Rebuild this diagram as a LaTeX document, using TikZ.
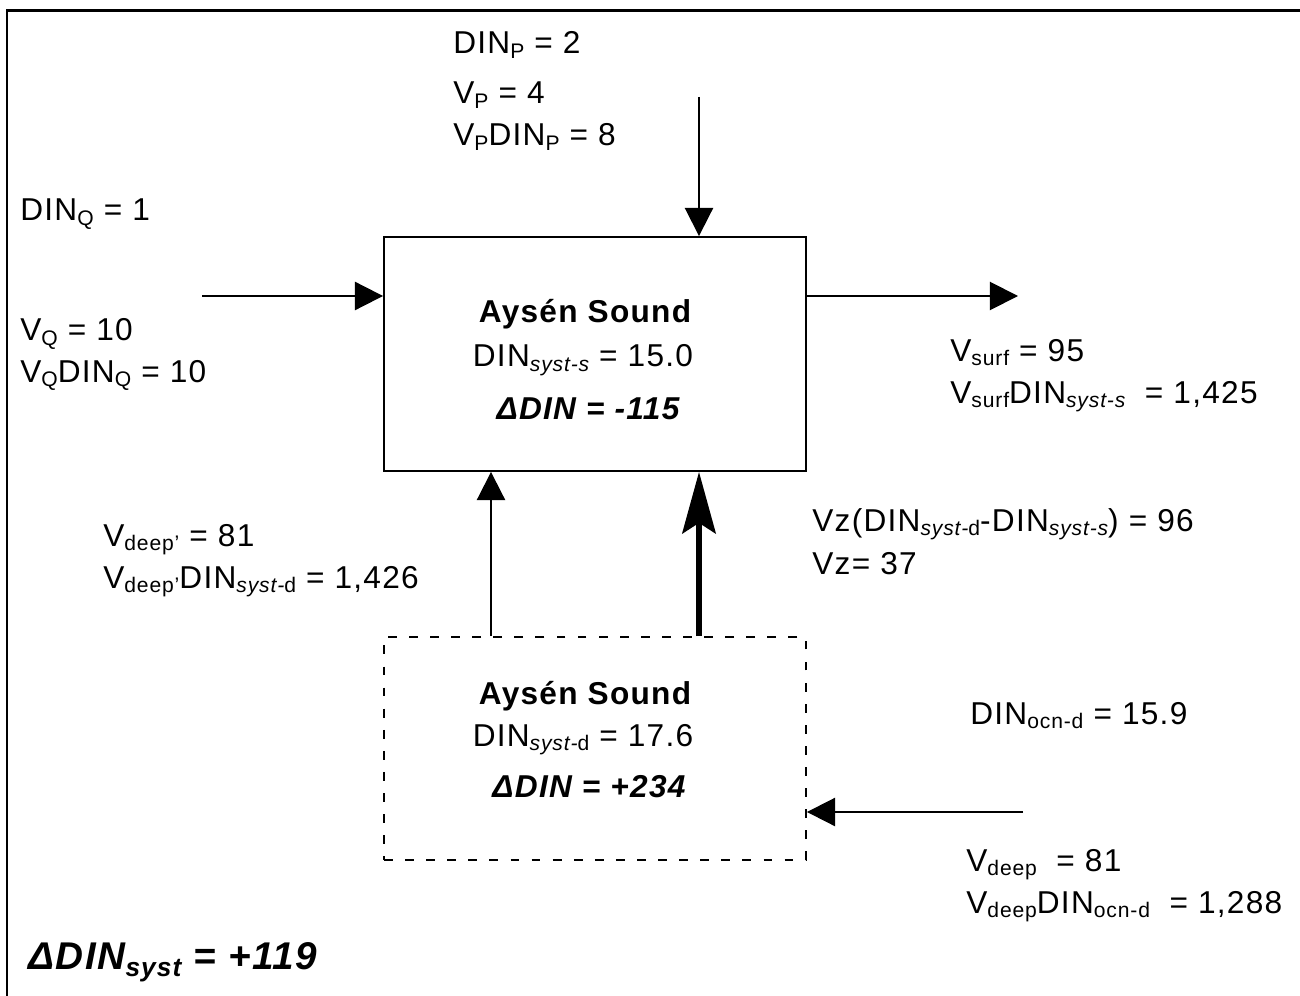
\documentclass[tikz,border=0pt]{standalone}
\usepackage{fontspec}
\setmainfont{Liberation Sans}[LetterSpace=4]
\usetikzlibrary{arrows.meta}
\newcommand\ix[1]{\raisebox{-0.15em}{\fontsize{12}{12}\selectfont #1}}

\begin{document}
\begin{tikzpicture}[x=0.02cm, y=-0.02cm, font=\fontsize{18}{20}\selectfont,
    lbl/.style={anchor=base west, inner sep=0pt},
    ttl/.style={anchor=base, inner sep=0pt},
    box/.style={draw, line width=1.1pt, minimum width=8.44cm, inner sep=0pt},
    flow/.style={-{Triangle[length=16pt, width=16pt]}, line width=1.1pt},
    bigflow/.style={-{Stealth[length=35pt, width=19pt, inset=6pt]}, line width=3.2pt}]
  \useasboundingbox (0,0) rectangle (1300,996);
  \draw[line width=1.7pt] (1300,11) -- (7,11) -- (7,996);

  % the two layers
  \node[box, minimum height=4.68cm] (surf) at (595,354) {};
  \node[box, minimum height=4.46cm, dash pattern=on 5pt off 7pt] (deep) at (595,748.5) {};

  \node[ttl, font=\fontsize{18}{20}\selectfont\bfseries] (surfname) at (585,323) {Aysén Sound};
  \node[ttl] (surfdin) at (583,367) {DIN\ix{\itshape syst-s} = 15.0};
  \node[ttl, font=\fontsize{18}{20}\selectfont\bfseries\itshape] (surfdelta) at (588,419) {ΔDIN = -115};
  \node[ttl, font=\fontsize{18}{20}\selectfont\bfseries] (deepname) at (585,704) {Aysén Sound};
  \node[ttl] (deepdin) at (583,746) {DIN\ix{\itshape syst-\upshape d} = 17.6};
  \node[ttl, font=\fontsize{18}{20}\selectfont\bfseries\itshape] (deepdelta) at (589,797) {ΔDIN = +234};

  % free ends of the flows
  \coordinate (pin) at (699,97);
  \coordinate (qin) at (202,296);
  \coordinate (sout) at (1018,296);
  \coordinate (ocn) at (1023,812);

  \draw[flow] (pin) -- (pin |- surf.north);
  \draw[flow] (qin) -- (surf.west |- qin);
  \draw[flow] (surf.east |- sout) -- (sout);
  \draw[flow] (ocn) -- (deep.east |- ocn);
  \draw[flow] (deep.north -| 491,0) -- (surf.south -| 491,0);
  \draw[bigflow] (deep.north -| pin) -- (surf.south -| pin);

  \node[lbl] (dinp) at (453,54) {DIN\ix{P} = 2};
  \node[lbl] (vp) at (453,104) {V\ix{P} = 4};
  \node[lbl] (vpdinp) at (453,146) {V\ix{P}DIN\ix{P} = 8};
  \node[lbl] (dinq) at (20,221) {DIN\ix{Q} = 1};
  \node[lbl] (vq) at (20,341) {V\ix{Q} = 10};
  \node[lbl] (vqdinq) at (20,382) {V\ix{Q}DIN\ix{Q} = 10};
  \node[lbl] (vsurf) at (950,361) {V\ix{surf} = 95};
  \node[lbl] (vsurfdin) at (950,403) {V\ix{surf}DIN\ix{\itshape syst-s}\hspace{0.3em} = 1,425};
  \node[lbl] (vdeepp) at (103,546) {V\ix{deep'} = 81};
  \node[lbl] (vdeeppdin) at (103,588) {V\ix{deep'}DIN\ix{\itshape syst-\upshape d} = 1,426};
  \node[lbl] (vzdin) at (812,531) {Vz(DIN\ix{\itshape syst-\upshape d}-DIN\ix{\itshape syst-s}) = 96};
  \node[lbl] (vz) at (812,574) {Vz= 37};
  \node[lbl] (dinocn) at (970,724) {DIN\ix{ocn-d} = 15.9};
  \node[lbl] (vdeep) at (966,871) {V\ix{deep}\hspace{0.3em} = 81};
  \node[lbl] (vdeepdin) at (966,913) {V\ix{deep}DIN\ix{ocn-d}\hspace{0.3em} = 1,288};
  \node[lbl, font=\fontsize{22}{24}\selectfont\bfseries\itshape] (total) at (28,969)
    {ΔDIN\raisebox{-0.2em}{\fontsize{15}{16}\selectfont syst} = +119};
\end{tikzpicture}
\end{document}
